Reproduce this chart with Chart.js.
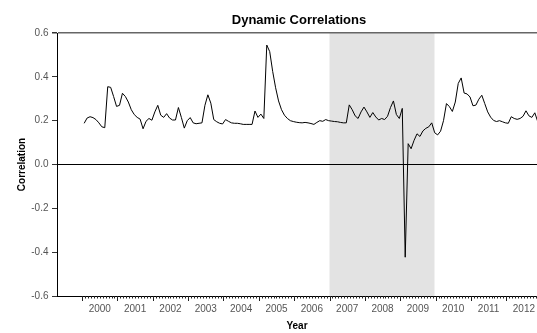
<!DOCTYPE html>
<html>
<head>
<meta charset="utf-8">
<script src="https://cdn.jsdelivr.net/npm/chart.js@4"></script>
<style>
  html, body { margin: 0; padding: 0; background: #fff; }
  #wrap { width: 537px; height: 333px; }
</style>
</head>
<body>
<div id="wrap"><canvas id="c" width="537" height="333"></canvas></div>
<script>
// ---- data (monthly, starting January 2000) ----
const startYear = 2000;
const correlations = [
  0.188, 0.212, 0.218, 0.214, 0.205, 0.190, 0.172, 0.168, 0.355, 0.352, 0.310, 0.265,
  0.270, 0.325, 0.310, 0.285, 0.250, 0.228, 0.215, 0.207, 0.163, 0.197, 0.210, 0.202,
  0.240, 0.270, 0.225, 0.215, 0.232, 0.212, 0.203, 0.203, 0.260, 0.215, 0.166, 0.200,
  0.214, 0.190, 0.186, 0.188, 0.190, 0.270, 0.318, 0.280, 0.205, 0.195, 0.188, 0.185,
  0.205, 0.197, 0.190, 0.188, 0.188, 0.186, 0.183, 0.183, 0.183, 0.183, 0.244, 0.215,
  0.230, 0.210, 0.545, 0.515, 0.425, 0.350, 0.290, 0.250, 0.225, 0.210, 0.200, 0.196,
  0.193, 0.191, 0.190, 0.192, 0.190, 0.187, 0.183, 0.192, 0.200, 0.197, 0.205, 0.200,
  0.198, 0.196, 0.195, 0.192, 0.190, 0.190, 0.272, 0.250, 0.222, 0.210, 0.240, 0.262,
  0.240, 0.215, 0.237, 0.217, 0.203, 0.210, 0.205, 0.220, 0.260, 0.290, 0.228, 0.210,
  0.256, -0.423, 0.095, 0.072, 0.110, 0.140, 0.128, 0.153, 0.165, 0.172, 0.190, 0.145,
  0.135, 0.152, 0.200, 0.278, 0.264, 0.242, 0.285, 0.370, 0.395, 0.326, 0.322, 0.308,
  0.268, 0.271, 0.298, 0.316, 0.278, 0.240, 0.216, 0.201, 0.196, 0.200, 0.195, 0.190,
  0.188, 0.218, 0.210, 0.206, 0.210, 0.220, 0.245, 0.222, 0.215, 0.236, 0.195
];
const yearLabels = [2000, 2001, 2002, 2003, 2004, 2005, 2006, 2007, 2008, 2009, 2010, 2011, 2012];
const yTicks = [-0.6, -0.4, -0.2, 0.0, 0.2, 0.4, 0.6];
const shadedPeriod = [2007.0, 2009.97];
const titleText = 'Dynamic Correlations';
const xTitle = 'Year';
const yTitle = 'Correlation';

const FONT = '"Liberation Sans", Arial, Helvetica, sans-serif';
const points = correlations.map((v, i) => ({ x: startYear + (i + 0.7) / 12, y: v }));

const decorPlugin = {
  id: 'decor',
  beforeDraw(chart) {
    const { ctx, chartArea, scales } = chart;
    const x = scales.x;
    const x0 = x.getPixelForValue(shadedPeriod[0]);
    const x1 = x.getPixelForValue(shadedPeriod[1]);
    ctx.save();
    ctx.fillStyle = '#e3e3e3';
    ctx.fillRect(x0, chartArea.top, x1 - x0, chartArea.bottom - chartArea.top);
    ctx.restore();
  },
  afterDraw(chart) {
    const { ctx, chartArea, scales } = chart;
    const x = scales.x;
    ctx.save();
    // month / year tick marks
    ctx.strokeStyle = '#222';
    ctx.lineWidth = 1;
    const y0 = chartArea.bottom;
    for (let m = 0; ; m++) {
      const v = yearLabels[0] + m / 12;
      if (v > x.max) break;
      const px = Math.round(x.getPixelForValue(v)) + 0.5;
      const len = (m % 12 === 0) ? 5 : 2.5;
      ctx.beginPath();
      ctx.moveTo(px, y0);
      ctx.lineTo(px, y0 + len);
      ctx.stroke();
    }
    // title
    ctx.fillStyle = '#000';
    ctx.font = 'bold 13px ' + FONT;
    ctx.textAlign = 'center';
    ctx.textBaseline = 'middle';
    ctx.fillText(titleText, (chartArea.left + chartArea.right) / 2 + 2, 20);
    ctx.restore();
  }
};

new Chart(document.getElementById('c'), {
  type: 'line',
  data: {
    datasets: [{
      data: points,
      borderColor: '#000',
      borderWidth: 1,
      pointRadius: 0,
      tension: 0,
      fill: false
    }]
  },
  options: {
    responsive: false,
    animation: false,
    events: [],
    layout: { padding: { top: 33, right: 0, left: 0, bottom: 0 } },
    plugins: { legend: { display: false }, title: { display: false }, tooltip: { enabled: false } },
    scales: {
      x: {
        type: 'linear',
        min: 1999.29,
        max: 2012.87,
        afterFit(s) { s.height = 37; s.paddingLeft = 0; s.paddingRight = 0; },
        afterBuildTicks(s) { s.ticks = yearLabels.map(y => ({ value: y + 0.5 })); },
        grid: { display: false, drawTicks: false },
        border: { display: true, color: '#000', width: 1 },
        ticks: {
          autoSkip: false,
          maxRotation: 0,
          padding: 7,
          color: '#555',
          font: { family: FONT, size: 10 },
          callback: v => String(Math.floor(v))
        },
        title: {
          display: true,
          text: xTitle,
          color: '#000',
          font: { family: FONT, size: 10, weight: 'bold' },
          padding: { top: 0, bottom: 1 }
        }
      },
      y: {
        min: -0.6,
        max: 0.6,
        afterFit(s) { s.width = 57; s.paddingTop = 0; s.paddingBottom = 0; },
        afterBuildTicks(s) { s.ticks = yTicks.map(v => ({ value: v })); },
        grid: {
          drawOnChartArea: true,
          drawTicks: true,
          tickLength: 5,
          tickColor: '#333',
          color: ctx => {
            const v = ctx.tick ? ctx.tick.value : null;
            if (v === 0) return '#000';
            if (v === 0.6) return '#666';
            return 'rgba(0,0,0,0)';
          },
          lineWidth: ctx => (ctx.tick && ctx.tick.value === 0.6) ? 1.5 : 1
        },
        border: { display: true, color: '#000', width: 1 },
        ticks: {
          padding: 3.5,
          color: '#555',
          font: { family: FONT, size: 10 },
          callback: v => (Math.round(v * 10) / 10).toFixed(1)
        },
        title: {
          display: true,
          text: yTitle,
          color: '#000',
          font: { family: FONT, size: 10, weight: 'bold' },
          padding: { top: 16, bottom: 0 }
        }
      }
    }
  },
  plugins: [decorPlugin]
});
</script>
</body>
</html>
